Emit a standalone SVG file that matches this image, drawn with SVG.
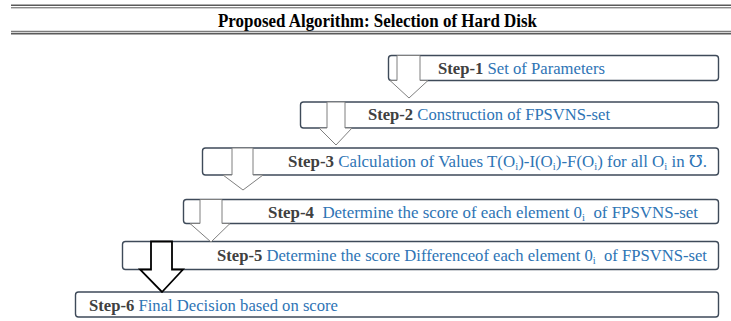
<svg xmlns="http://www.w3.org/2000/svg" width="731" height="321" viewBox="0 0 731 321">
<style>
.rule{stroke:#5a5a5a;fill:none}
.title{font-family:"Liberation Serif","Times New Roman",serif;font-weight:bold;font-size:18px;fill:#000}
.box{fill:#fff;stroke:#3e4a59;stroke-width:1.4}
.t{font-family:"Liberation Serif","Times New Roman","DejaVu Serif",serif;font-size:16.5px;fill:#2e74b5}
.s{font-weight:bold;fill:#404040}
.sub{font-size:10.5px}
.arr{fill:#fff;stroke:#7f7f7f;stroke-width:1;stroke-linejoin:miter}
.arrb{fill:#fff;stroke:#000;stroke-width:1.8;stroke-linejoin:miter}
</style>
<g id="header">
<line class="rule" x1="11" y1="5.3" x2="731" y2="5.3" stroke-width="1.6"/>
<line class="rule" x1="11" y1="7.8" x2="731" y2="7.8" stroke-width="1"/>
<text class="title" x="218" y="26.5" textLength="319" lengthAdjust="spacingAndGlyphs">Proposed Algorithm: Selection of Hard Disk</text>
<line class="rule" x1="11" y1="31.3" x2="731" y2="31.3" stroke-width="1"/>
<line class="rule" x1="11" y1="33.6" x2="731" y2="33.6" stroke-width="1.6"/>
</g>
<g id="step1">
<rect class="box" x="388.5" y="55.5" width="330" height="25" rx="3"/>
<text class="t" x="438" y="73.5" textLength="167" lengthAdjust="spacingAndGlyphs" xml:space="preserve"><tspan class="s">Step-1</tspan> Set of Parameters</text>
</g>
<g id="step2">
<rect class="box" x="300.5" y="102" width="418" height="26" rx="3"/>
<text class="t" x="368" y="119.5" textLength="242" lengthAdjust="spacingAndGlyphs" xml:space="preserve"><tspan class="s">Step-2</tspan> Construction of FPSVNS-set</text>
</g>
<g id="step3">
<rect class="box" x="202.5" y="148" width="516" height="27" rx="3"/>
<text class="t" x="288" y="166.5" textLength="419" lengthAdjust="spacingAndGlyphs" xml:space="preserve"><tspan class="s">Step-3</tspan> Calculation of Values T(O<tspan class="sub" dy="3">i</tspan><tspan dy="-3">)-I(O</tspan><tspan class="sub" dy="3">i</tspan><tspan dy="-3">)-F(O</tspan><tspan class="sub" dy="3">i</tspan><tspan dy="-3">) for all O</tspan><tspan class="sub" dy="3">i</tspan><tspan dy="-3"> in ℧.</tspan></text>
</g>
<g id="step4">
<rect class="box" x="183.5" y="199.5" width="535" height="24" rx="3"/>
<text class="t" x="268" y="217.5" textLength="430" lengthAdjust="spacingAndGlyphs" xml:space="preserve"><tspan class="s">Step-4</tspan>  Determine the score of each element 0<tspan class="sub" dy="3">i</tspan><tspan dy="-3">  of FPSVNS-set</tspan></text>
</g>
<g id="step5">
<rect class="box" x="122.5" y="241.5" width="596" height="28" rx="3"/>
<text class="t" x="217" y="260.5" textLength="490" lengthAdjust="spacingAndGlyphs" xml:space="preserve"><tspan class="s">Step-5</tspan> Determine the score Differenceof each element 0<tspan class="sub" dy="3">i</tspan><tspan dy="-3">  of FPSVNS-set</tspan></text>
</g>
<g id="step6">
<rect class="box" x="75.5" y="292" width="643" height="25" rx="3"/>
<text class="t" x="89" y="311" textLength="249" lengthAdjust="spacingAndGlyphs" xml:space="preserve"><tspan class="s">Step-6</tspan> Final Decision based on score</text>
</g>
<g id="connectors">
<polygon class="arr" points="397,55.5 420,55.5 420,80.5 428,80.5 409,98 390,80.5 397,80.5"/>
<polygon class="arr" points="327,102 345,102 345,128 352,128 336,145 319,128 327,128"/>
<polygon class="arr" points="232,148 253,148 253,175 263,175 243,190 223,175 232,175"/>
<polygon class="arr" points="200,199.5 222,199.5 222,223.5 230,223.5 211,242 190,223.5 200,223.5"/>
<polygon class="arrb" points="151,241.5 172,241.5 172,269.5 183,269.5 162,292 140,269.5 151,269.5"/>
</g>
</svg>
